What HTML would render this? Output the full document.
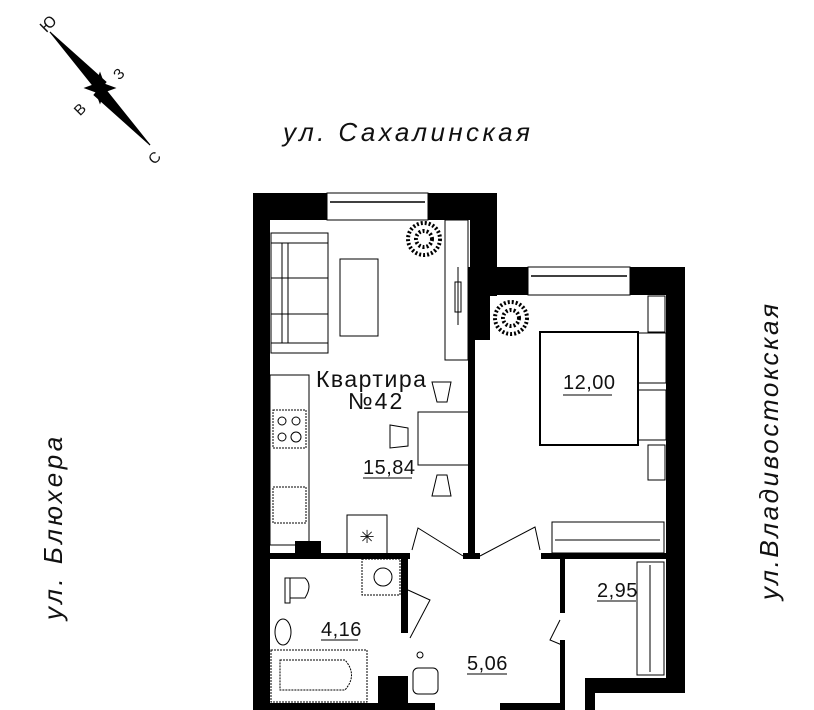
<!DOCTYPE html>
<html><head><meta charset="utf-8"><style>
html,body{margin:0;padding:0;background:#fff;width:814px;height:710px;overflow:hidden}
svg{display:block}
text{font-family:"Liberation Sans Narrow","Liberation Sans",sans-serif;fill:#111}
</style></head><body>
<svg width="814" height="710" viewBox="0 0 814 710" xmlns="http://www.w3.org/2000/svg">
<!-- compass -->
<g stroke="#000" stroke-width="1">
<polygon points="50,32 106,82 98,92" fill="#000"/>
<polygon points="150,145 94,95 102,85" fill="#000"/>
<line x1="50" y1="32" x2="150" y2="145"/>
<polygon points="100,73 104,84 115,88 104,92 100,103 96,92 85,88 96,84" fill="#000"/>
</g>
<text x="40" y="30" font-size="16" transform="rotate(-45 47 24)">Ю</text>
<text x="114" y="78" font-size="15" transform="rotate(-45 120 73)">З</text>
<text x="74" y="114" font-size="15" transform="rotate(-45 80 108)">В</text>
<text x="148" y="162" font-size="15" transform="rotate(-45 155 156)">С</text>

<text x="283" y="141" font-size="26" font-style="italic" letter-spacing="3.4">ул. Сахалинская</text>
<text transform="translate(62 620) rotate(-90)" font-size="26" font-style="italic" letter-spacing="3.5">ул. Блюхера</text>
<text transform="translate(778 600) rotate(-90)" font-size="26" font-style="italic" letter-spacing="2.6">ул.Владивостокская</text>

<!-- walls -->
<g fill="#000">
<rect x="253" y="193" width="17" height="517"/>
<rect x="253" y="193" width="244" height="27"/>
<rect x="470" y="193" width="27" height="103"/>
<rect x="470" y="267" width="215" height="28"/>
<rect x="468" y="267" width="22" height="73"/>
<rect x="468" y="330" width="7" height="226"/>
<rect x="666" y="267" width="19" height="426"/>
<rect x="585" y="678" width="100" height="15"/>
<rect x="585" y="678" width="10" height="32"/>
<rect x="270" y="553" width="140" height="6"/>
<rect x="295" y="541" width="26" height="18"/>
<rect x="463" y="553" width="17" height="6"/>
<rect x="541" y="553" width="127" height="6"/>
<rect x="401" y="553" width="7" height="80"/>
<rect x="401" y="676" width="7" height="34"/>
<rect x="378" y="676" width="30" height="34"/>
<rect x="560" y="553" width="5" height="60"/>
<rect x="560" y="640" width="5" height="70"/>
<rect x="253" y="703" width="182" height="7"/>
<rect x="500" y="703" width="65" height="7"/>
</g>
<!-- windows -->
<g fill="#fff" stroke="#000" stroke-width="1">
<rect x="327" y="193" width="101" height="27"/>
<rect x="528" y="267" width="102" height="28"/>
</g>
<g stroke="#000" stroke-width="1.5">
<line x1="330" y1="202" x2="425" y2="202"/>
<line x1="531" y1="276" x2="627" y2="276"/>
</g>

<g fill="none" stroke="#000" stroke-width="1">
<rect x="271" y="233" width="57" height="120"/>
<rect x="271" y="243" width="57" height="100"/>
<line x1="282" y1="243" x2="282" y2="343"/><line x1="288" y1="243" x2="288" y2="343"/>
<line x1="271" y1="278" x2="328" y2="278"/><line x1="271" y1="314" x2="328" y2="314"/>
<rect x="340" y="259" width="38" height="77"/>
<rect x="445" y="220" width="23" height="140"/>
<rect x="455" y="282" width="6" height="30"/>
<line x1="458" y1="267" x2="458" y2="325"/>
<rect x="270" y="375" width="39" height="170"/>
<rect x="273" y="410" width="33" height="38" stroke-dasharray="2 1"/>
<circle cx="282" cy="421" r="4"/><circle cx="296" cy="421" r="4"/>
<circle cx="282" cy="437" r="4"/><circle cx="296" cy="437" r="5"/>
<rect x="273" y="487" width="33" height="36" stroke-dasharray="2 1"/>
<rect x="347" y="515" width="40" height="40"/>
<rect x="418" y="412" width="52" height="53"/>
<path d="M437 402 L432 382 L451 382 L447 402Z"/>
<path d="M437 475 L432 496 L451 496 L447 475Z"/>
<path d="M408 428 L390 425 L390 448 L408 446Z"/>
<path d="M463 556 L418 528 L412 550"/>
<path d="M480 556 L535 527 L540 550"/>
<path d="M408 590 L430 600 L410 638"/>
<path d="M560 620 L550 640 L562 645"/>
<rect x="362" y="559" width="38" height="36" stroke-dasharray="2 1"/>
<circle cx="383" cy="577" r="9"/>
<rect x="285" y="578" width="5" height="25"/>
<path d="M290 578 L305 578 Q313 585 305 598 L290 598"/>
<ellipse cx="283" cy="632" rx="8" ry="13"/>
<rect x="271" y="650" width="96" height="52" stroke-dasharray="2 1"/>
<path d="M280 660 L345 660 Q358 675 345 690 L280 690 Z" stroke-dasharray="2 1"/>
<rect x="413" y="668" width="25" height="26" rx="5"/>
<circle cx="420" cy="655" r="3"/>
<rect x="540" y="332" width="98" height="113" stroke-width="2"/>
<rect x="638" y="333" width="28" height="50"/><rect x="638" y="390" width="28" height="50"/>
<rect x="648" y="296" width="17" height="36"/><rect x="648" y="445" width="17" height="35"/>
<rect x="552" y="522" width="112" height="31"/>
<line x1="555" y1="540" x2="660" y2="540"/>
<rect x="637" y="562" width="27" height="113"/>
<line x1="650" y1="565" x2="650" y2="672"/>
</g>
<circle cx="424" cy="239" r="16" fill="none" stroke="#000" stroke-width="4" stroke-dasharray="2 2"/>
<circle cx="424" cy="239" r="8" fill="none" stroke="#000" stroke-width="4" stroke-dasharray="2 2"/>
<circle cx="511" cy="318" r="16" fill="none" stroke="#000" stroke-width="4" stroke-dasharray="2 2"/>
<circle cx="511" cy="318" r="8" fill="none" stroke="#000" stroke-width="4" stroke-dasharray="2 2"/>
<text x="367" y="543" font-size="18" text-anchor="middle">✳</text>

<text x="316" y="387" font-size="23" letter-spacing="1.5">Квартира</text>
<text x="348" y="409" font-size="23" letter-spacing="2">№42</text>
<g stroke="#000" stroke-width="1">
<line x1="363" y1="478" x2="412" y2="478"/>
<line x1="563" y1="395" x2="612" y2="395"/>
<line x1="321" y1="640" x2="358" y2="640"/>
<line x1="467" y1="674" x2="507" y2="674"/>
<line x1="597" y1="601" x2="636" y2="601"/>
</g>
<text x="363" y="474" font-size="20" letter-spacing="0.5">15,84</text>
<text x="563" y="389" font-size="20" letter-spacing="0.5">12,00</text>
<text x="321" y="636" font-size="20" letter-spacing="0.5">4,16</text>
<text x="467" y="670" font-size="20" letter-spacing="0.5">5,06</text>
<text x="597" y="597" font-size="20" letter-spacing="0.5">2,95</text>
</svg>
</body></html>
